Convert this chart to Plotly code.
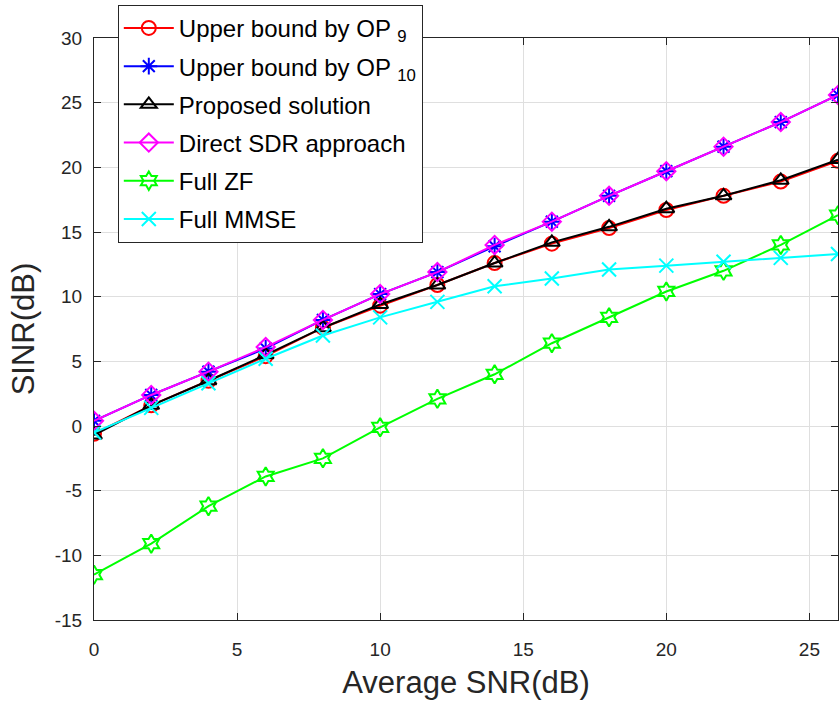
import plotly.graph_objects as go

snr = [0, 2, 4, 6, 8, 10, 12, 14, 16, 18, 20, 22, 24, 26]

op9 = [-0.6, 1.6, 3.5, 5.4, 7.6, 9.3, 10.9, 12.6, 14.1, 15.3, 16.7, 17.8, 18.9, 20.5]
op10 = [0.4, 2.4, 4.2, 6.0, 8.2, 10.2, 11.9, 13.9, 15.8, 17.8, 19.7, 21.6, 23.5, 25.6]
proposed = [-0.7, 1.6, 3.5, 5.5, 7.6, 9.4, 10.9, 12.6, 14.2, 15.4, 16.8, 17.8, 19.0, 20.6]
sdr = [0.4, 2.4, 4.2, 6.1, 8.2, 10.2, 11.9, 14.0, 15.8, 17.8, 19.7, 21.6, 23.5, 25.6]
full_zf = [-11.5, -9.1, -6.2, -3.9, -2.5, -0.1, 2.1, 4.0, 6.4, 8.4, 10.4, 12.0, 14.0, 16.3]
full_mmse = [-0.5, 1.4, 3.3, 5.2, 7.0, 8.4, 9.6, 10.8, 11.4, 12.1, 12.4, 12.7, 13.0, 13.3]

x_ticks = [0, 5, 10, 15, 20, 25]
x_tick_labels = ["0", "5", "10", "15", "20", "25"]
y_ticks = [-15, -10, -5, 0, 5, 10, 15, 20, 25, 30]
y_tick_labels = ["-15", "-10", "-5", "0", "5", "10", "15", "20", "25", "30"]

series = [
    ("Upper bound by OP <sub>9</sub>", op9, "#ff0000", "circle-open"),
    ("Upper bound by OP <sub>10</sub>", op10, "#0000ff", "asterisk-open"),
    ("Proposed solution", proposed, "#000000", "triangle-up-open"),
    ("Direct SDR approach", sdr, "#ff00ff", "diamond-open"),
    ("Full ZF", full_zf, "#00ff00", "hexagram-open"),
    ("Full MMSE", full_mmse, "#00ffff", "x-thin-open"),
]

fig = go.Figure()
for i, (name, ys, col, sym) in enumerate(series):
    fig.add_trace(go.Scatter(
        x=snr, y=ys, name=name, mode="lines+markers",
        line=dict(color=col, width=2),
        marker=dict(symbol=sym, size=14, color=col, line=dict(color=col, width=2)),
        legendgroup="g%d" % i,
    ))

axis_common = dict(
    showgrid=True, gridcolor="#dfdfdf", gridwidth=1,
    showline=True, linecolor="#262626", linewidth=1, mirror="ticks",
    ticks="inside", ticklen=7, tickcolor="#262626",
    tickfont=dict(family="Arial", size=19, color="#262626"),
    zeroline=False,
)

fig.update_xaxes(range=[0, 26], tickvals=x_ticks, ticktext=x_tick_labels,
                 ticklabelstandoff=12,
                 title=dict(text="Average SNR(dB)", font=dict(family="Arial", size=31, color="#262626"), standoff=12),
                 **axis_common)
fig.update_yaxes(range=[-15, 30], tickvals=y_ticks, ticktext=y_tick_labels,
                 ticklabelstandoff=7,
                 title=dict(text="SINR(dB)", font=dict(family="Arial", size=31, color="#262626"), standoff=10),
                 **axis_common)

fig.update_layout(
    width=839, height=706,
    margin=dict(l=94, r=1, t=38, b=86),
    plot_bgcolor="white", paper_bgcolor="white",
    font=dict(family="Arial", color="#000000"),
    legend=dict(
        x=0.032, y=1.057, xanchor="left", yanchor="top",
        bgcolor="white", bordercolor="#262626", borderwidth=1,
        font=dict(family="Arial", size=24, color="#000000"),
        itemwidth=50, tracegroupgap=4,
    ),
    showlegend=True,
)

fig.write_html("out.html")
